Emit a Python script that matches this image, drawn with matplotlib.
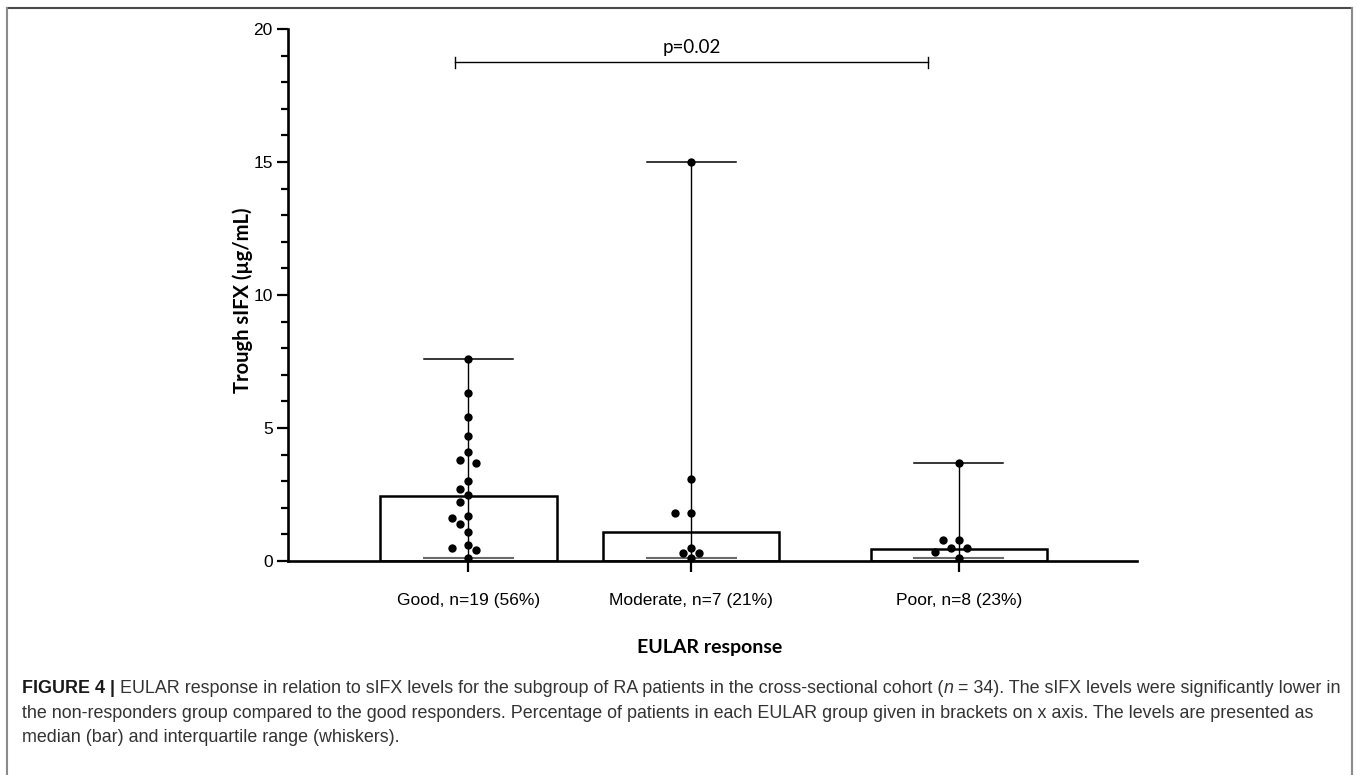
import matplotlib
matplotlib.use("Agg")
import matplotlib.pyplot as plt
from matplotlib.ticker import MultipleLocator

# ── Data ──────────────────────────────────────────────────────────────────
groups = ["Good, n=19 (56%)", "Moderate, n=7 (21%)", "Poor, n=8 (23%)"]
good_vals = [7.6, 6.3, 5.4, 4.7, 4.1, 3.8, 3.7, 3.0, 2.7, 2.5, 2.2,
             1.7, 1.6, 1.4, 1.1, 0.6, 0.5, 0.4, 0.1]
moderate_vals = [15.0, 3.1, 1.8, 1.8, 0.5, 0.3, 0.3, 0.1]
poor_vals = [3.7, 0.8, 0.8, 0.5, 0.5, 0.35, 0.1]
bar_heights = [2.45, 1.1, 0.45]
whisker_low = [0.1, 0.1, 0.1]
whisker_high = [7.6, 15.0, 3.7]
p_text = "p=0.02"

W, H = 1357, 775
fig = plt.figure(figsize=(W / 100, H / 100), dpi=100)
fig.patch.set_facecolor("white")

# axes placed in pixel terms
ax_l, ax_r, ax_t, ax_b = 288, 1137, 29, 561
ax = fig.add_axes([ax_l / W, 1 - ax_b / H, (ax_r - ax_l) / W, (ax_b - ax_t) / H])

positions = [1.0, 2.0, 3.2]
ax.set_xlim(0.19, 4.0)
ax.set_ylim(0, 20)

for s in ["top", "right"]:
    ax.spines[s].set_visible(False)
for s in ["left", "bottom"]:
    ax.spines[s].set_linewidth(1.9)
    ax.spines[s].set_zorder(6)

ax.yaxis.set_major_locator(MultipleLocator(5))
ax.yaxis.set_minor_locator(MultipleLocator(1))
ax.tick_params(axis="y", which="major", length=8, width=1.6, labelsize=12.5, pad=3)
ax.tick_params(axis="y", which="minor", length=5, width=1.6)
ax.set_xticks(positions)
ax.set_xticklabels(groups)
ax.tick_params(axis="x", which="major", length=8, width=1.6, labelsize=12.5, pad=15)
for lab in ax.get_xticklabels() + ax.get_yticklabels():
    lab.set_family("Liberation Sans")

# bars (median)
ax.bar(positions, bar_heights, width=0.79, facecolor="white",
       edgecolor="black", linewidth=1.8, zorder=2)

# whiskers
cap_w = 0.4
for x, lo, hi in zip(positions, whisker_low, whisker_high):
    ax.plot([x, x], [lo, hi], color="black", lw=1.0, zorder=3)
    ax.plot([x - cap_w / 2, x + cap_w / 2], [hi, hi], color="black", lw=1.1, zorder=3)
    ax.plot([x - cap_w / 2, x + cap_w / 2], [lo, lo], color="#6a6a6a", lw=1.5, zorder=3)


def swarm(values, xc, diam=9.0, step=8.0):
    """simple beeswarm in pixel space, returns x positions in data units"""
    px_per_unit = ax.transData.transform((1, 0))[0] - ax.transData.transform((0, 0))[0]
    ys = [ax.transData.transform((xc, v))[1] for v in values]
    order = sorted(range(len(values)), key=lambda i: -values[i])
    placed = []
    xs = [xc] * len(values)
    for i in order:
        y = ys[i]
        for k in [0, -1, 1, -2, 2, -3, 3]:
            dx = k * step
            if all((dx - px) ** 2 + (y - py) ** 2 >= diam ** 2 for px, py in placed):
                break
        placed.append((dx, y))
        xs[i] = xc + dx / px_per_unit
    return xs


for x, vals in zip(positions, [good_vals, moderate_vals, poor_vals]):
    ax.scatter(swarm(vals, x), vals, s=36, color="black", zorder=5,
               linewidths=0, clip_on=False)

# significance bracket
br_y = 18.75
ax.plot([0.94, 3.06], [br_y, br_y], color="black", lw=1.0, clip_on=False)
for xe in [0.94, 3.06]:
    ax.plot([xe, xe], [br_y - 0.2, br_y + 0.2], color="black", lw=1.0, clip_on=False)
ax.text(2.0, br_y + 0.25, p_text, ha="center", va="bottom", fontsize=13.5,
        family="Lato")

# axis titles
fig.text(243 / W, 1 - 300 / H, "Trough sIFX (µg/mL)", rotation=90, ha="center",
         va="center", fontsize=14.5, fontweight="bold", family="Lato")
fig.text(710 / W, 1 - 648 / H, "EULAR response", ha="center", va="center",
         fontsize=14, fontweight="bold", family="Lato")

# frame around the figure panel
fig.add_artist(plt.Line2D([7 / W, 1352 / W], [1 - 8 / H, 1 - 8 / H],
                          transform=fig.transFigure, color="#4a4a4a", lw=1.5))
fig.add_artist(plt.Line2D([7 / W, 7 / W], [0, 1 - 8 / H],
                          transform=fig.transFigure, color="#8a8a8a", lw=1.5))
fig.add_artist(plt.Line2D([1352 / W, 1352 / W], [0, 1 - 8 / H],
                          transform=fig.transFigure, color="#8a8a8a", lw=1.5))

# ── caption ───────────────────────────────────────────────────────────────
cap_font = ["Liberation Sans Narrow", "Liberation Sans"]
renderer = fig.canvas.get_renderer()
cap_lines = [
    [("FIGURE 4 |", "bold", "normal", "#1a1a1a"),
     ("EULAR response in relation to sIFX levels for the subgroup of RA patients "
      "in the cross-sectional cohort (", "normal", "normal", "#333333"),
     ("n", "normal", "italic", "#333333"),
     ("= 34). The sIFX levels were significantly lower in", "normal", "normal", "#333333")],
    [("the non-responders group compared to the good responders. Percentage of "
      "patients in each EULAR group given in brackets on x axis. The levels are "
      "presented as", "normal", "normal", "#333333")],
    [("median (bar) and interquartile range (whiskers).", "normal", "normal", "#333333")],
]
# spaces that follow each segment (between them)
gaps = [[True, False, True], [], []]


def draw_line(segs, spaces, x0, y, size):
    sp = fig.text(0, 0, "x x", fontsize=size, family=cap_font)
    sp2 = fig.text(0, 0, "xx", fontsize=size, family=cap_font)
    space_w = sp.get_window_extent(renderer).width - sp2.get_window_extent(renderer).width
    sp.remove()
    sp2.remove()
    x = x0
    arts = []
    for j, (txt, wt, st, col) in enumerate(segs):
        t = fig.text(x / W, 1 - y / H, txt, fontsize=size, fontweight=wt,
                     fontstyle=st, family=cap_font, color=col, va="baseline")
        arts.append(t)
        x += t.get_window_extent(renderer).width
        if j < len(spaces) and spaces[j]:
            x += space_w
    return arts, x


# fit caption size so the first line spans the panel width
probe, x_end = draw_line(cap_lines[0], gaps[0], 22, 693, 12)
for a in probe:
    a.remove()
cap_size = 12 * (1338 - 22) / (x_end - 22)
for k, yb in enumerate([693, 718, 742]):
    draw_line(cap_lines[k], gaps[k], 22, yb, cap_size)

fig.savefig("out.png", dpi=100, facecolor="white")
